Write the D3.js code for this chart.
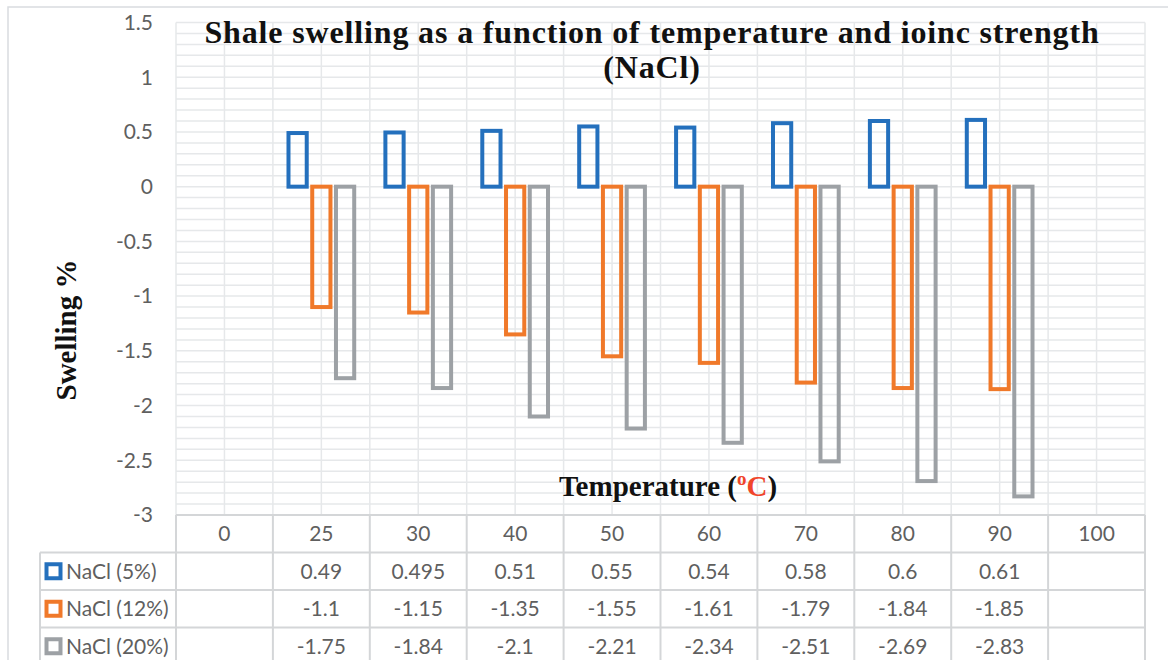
<!DOCTYPE html>
<html>
<head>
<meta charset="utf-8">
<script src="https://cdn.jsdelivr.net/npm/d3@7"></script>
<style>
	html, body { margin: 0; padding: 0; background: #fff; }
	svg { display: block; }
</style>
</head>
<body>
<svg id="chart" width="1168" height="660"></svg>
<script>
// chart data
var categories = ["0", "25", "30", "40", "50", "60", "70", "80", "90", "100"];
var seriesNames = ["NaCl (5%)", "NaCl (12%)", "NaCl (20%)"];
var seriesColors = ["#2470bd", "#f0792a", "#9da1a5"];
var nacl5 = [null, 0.49, 0.495, 0.51, 0.55, 0.54, 0.58, 0.6, 0.61, null];
var nacl12 = [null, -1.1, -1.15, -1.35, -1.55, -1.61, -1.79, -1.84, -1.85, null];
var nacl20 = [null, -1.75, -1.84, -2.1, -2.21, -2.34, -2.51, -2.69, -2.83, null];
var yTicks = [1.5, 1, 0.5, 0, -0.5, -1, -1.5, -2, -2.5, -3];

var series = [nacl5, nacl12, nacl20];

var svg = d3.select("#chart");
var plotLeft = 176, plotRight = 1145, plotTop = 22.5, plotBottom = 515;
var rowH = 37.5;
var legendLeft = 40;
var sans = "Lato, 'Liberation Sans', sans-serif";
var serif = "'Liberation Serif', 'Times New Roman', serif";
var textGrey = "#5f5f5f";
var lineGrey = "#d4d6d8";

// outer frame
svg.append("rect")
	.attr("x", 8).attr("y", 7)
	.attr("width", 1200).attr("height", 700)
	.attr("fill", "none").attr("stroke", "#d9dcdf").attr("stroke-width", 1.5);

var x = d3.scaleBand().domain(categories).range([plotLeft, plotRight]);
var y = d3.scaleLinear().domain([-3, 1.5]).range([plotBottom, plotTop]);
var x1 = d3.scaleBand().domain(d3.range(series.length))
	.range([0, x.bandwidth() * 0.735]);

// grid
var grid = svg.append("g");
grid.selectAll("line.h")
	.data(d3.range(-30, 16).map(function (d) { return d / 10; }))
	.enter().append("line")
	.attr("x1", plotLeft).attr("x2", plotRight)
	.attr("y1", function (d) { return y(d); })
	.attr("y2", function (d) { return y(d); })
	.attr("stroke", "#e6e8ea").attr("stroke-width", 1.5);

var vx = [];
categories.forEach(function (c) {
	vx.push(x(c));
	vx.push(x(c) + x.bandwidth() / 2);
});
vx.push(plotRight);
grid.selectAll("line.v")
	.data(vx)
	.enter().append("line")
	.attr("x1", function (d) { return d; })
	.attr("x2", function (d) { return d; })
	.attr("y1", plotTop).attr("y2", plotBottom)
	.attr("stroke", "#e6e8ea").attr("stroke-width", 1.5);

// y axis tick labels
svg.append("g").selectAll("text")
	.data(yTicks)
	.enter().append("text")
	.attr("x", 153)
	.attr("y", function (d) { return y(d); })
	.attr("dy", "0.35em")
	.attr("text-anchor", "end")
	.attr("font-family", sans).attr("font-size", 21)
	.attr("fill", textGrey)
	.text(function (d) { return d; });

// bars
var stroke = 4;
var barW = x1.bandwidth() - 1.5 - stroke;
svg.append("g").selectAll("g")
	.data(series)
	.enter().append("g")
	.attr("stroke", function (d, i) { return seriesColors[i]; })
	.attr("fill", "none")
	.attr("stroke-width", stroke)
	.each(function (vals, si) {
		d3.select(this).selectAll("rect")
			.data(vals.map(function (v, i) { return { c: categories[i], v: v }; })
				.filter(function (d) { return d.v !== null; }))
			.enter().append("rect")
			.attr("x", function (d) {
				return x(d.c) + (x.bandwidth() - x1.range()[1]) / 2 + x1(si) + (x1.bandwidth() - barW) / 2;
			})
			.attr("y", function (d) { return Math.min(y(d.v), y(0)); })
			.attr("width", barW)
			.attr("height", function (d) { return Math.abs(y(d.v) - y(0)); });
	});

// data table
var table = svg.append("g").attr("stroke", lineGrey).attr("stroke-width", 2);
table.append("line").attr("x1", plotLeft).attr("x2", plotRight).attr("y1", plotBottom).attr("y2", plotBottom);
for (var r = 1; r <= 3; r++) {
	table.append("line")
		.attr("x1", legendLeft).attr("x2", plotRight)
		.attr("y1", plotBottom + r * rowH).attr("y2", plotBottom + r * rowH);
}
table.append("line").attr("x1", legendLeft).attr("x2", legendLeft)
	.attr("y1", plotBottom + rowH).attr("y2", 680);
vx.filter(function (d, i) { return i % 2 === 0; }).forEach(function (d) {
	table.append("line").attr("x1", d).attr("x2", d)
		.attr("y1", plotBottom).attr("y2", 680);
});

// header row
svg.append("g").selectAll("text")
	.data(categories)
	.enter().append("text")
	.attr("x", function (d) { return x(d) + x.bandwidth() / 2; })
	.attr("y", plotBottom + rowH / 2)
	.attr("dy", "0.36em")
	.attr("text-anchor", "middle")
	.attr("font-family", sans).attr("font-size", 21)
	.attr("fill", textGrey)
	.text(function (d) { return d; });

// series rows
series.forEach(function (vals, si) {
	var rowY = plotBottom + (si + 1) * rowH;
	var row = svg.append("g");
	row.append("rect")
		.attr("x", 46.5).attr("y", rowY + rowH / 2 - 7)
		.attr("width", 14).attr("height", 14)
		.attr("fill", "#fff")
		.attr("stroke", seriesColors[si]).attr("stroke-width", 4);
	row.append("text")
		.attr("x", 66).attr("y", rowY + rowH / 2)
		.attr("dy", "0.36em")
		.attr("font-family", sans).attr("font-size", 21)
		.attr("fill", textGrey)
		.text(seriesNames[si]);
	row.selectAll("text.v")
		.data(vals.map(function (v, i) { return { c: categories[i], v: v }; })
			.filter(function (d) { return d.v !== null; }))
		.enter().append("text")
		.attr("x", function (d) { return x(d.c) + x.bandwidth() / 2; })
		.attr("y", rowY + rowH / 2)
		.attr("dy", "0.36em")
		.attr("text-anchor", "middle")
		.attr("font-family", sans).attr("font-size", 21)
		.attr("fill", textGrey)
		.text(function (d) { return d.v; });
});

// titles
svg.append("text")
	.attr("x", 652).attr("y", 43)
	.attr("text-anchor", "middle")
	.attr("font-family", serif).attr("font-weight", "bold").attr("font-size", 32)
	.attr("letter-spacing", 0.85)
	.attr("fill", "#111")
	.text("Shale swelling as a function of temperature and ioinc strength");
svg.append("text")
	.attr("x", 652).attr("y", 78)
	.attr("text-anchor", "middle")
	.attr("font-family", serif).attr("font-weight", "bold").attr("font-size", 32)
	.attr("letter-spacing", 0.85)
	.attr("fill", "#111")
	.text("(NaCl)");

svg.append("text")
	.attr("transform", "translate(76,330) rotate(-90)")
	.attr("text-anchor", "middle")
	.attr("font-family", serif).attr("font-weight", "bold").attr("font-size", 29)
	.attr("fill", "#111")
	.text("Swelling %");

var xt = svg.append("text")
	.attr("x", 668).attr("y", 496)
	.attr("text-anchor", "middle")
	.attr("font-family", serif).attr("font-weight", "bold").attr("font-size", 29)
	.attr("fill", "#111");
xt.append("tspan").text("Temperature (");
xt.append("tspan").attr("fill", "#f0452a").attr("font-size", 19).attr("dy", -11).text("o");
xt.append("tspan").attr("fill", "#f0452a").attr("dy", 11).text("C");
xt.append("tspan").text(")");
</script>
</body>
</html>
